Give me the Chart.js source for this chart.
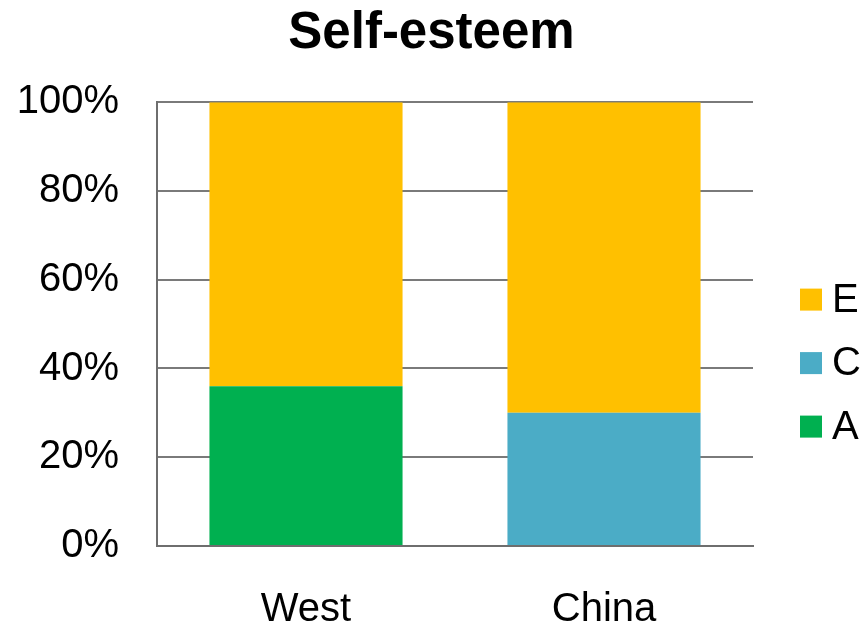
<!DOCTYPE html>
<html>
<head>
<meta charset="utf-8">
<script src="https://cdn.jsdelivr.net/npm/chart.js@4.4.1/dist/chart.umd.min.js"></script>
<style>
  html, body { margin: 0; padding: 0; background: #fff; }
  #wrap { width: 863px; height: 628px; position: relative; }
</style>
</head>
<body>
<div id="wrap"><canvas id="esteemChart"></canvas></div>
<script>
// groups along the x axis
const groups = ["West", "China"];
// share of each style per group (percent), stacked bottom to top: A, C, E
const shareA = [36, 0];
const shareC = [0, 30];
const shareE = [64, 70];
const yTicks = [0, 20, 40, 60, 80, 100];

const baseFont = "'Liberation Sans', Arial, sans-serif";

//legend drawn by hand on the right so the box/text gap can be tight
const sideLegend = {
    id: "sideLegend",
    afterDraw(chart) {
        const c = chart.ctx;
        const area = chart.chartArea;
        const mid = (area.top + area.bottom) / 2;
        //top to bottom: E, C, A (reverse of the stacking order)
        const sets = chart.data.datasets.slice().reverse();
        c.save();
        c.font = "40px " + baseFont;
        c.textBaseline = "middle";
        c.textAlign = "left";
        sets.forEach((ds, i) => {
            const y = mid + 39 + (i - 1) * 63.5;
            c.fillStyle = ds.backgroundColor;
            c.fillRect(800, y - 11, 22, 22);
            c.fillStyle = "#000";
            c.fillText(ds.label, 832, y + 1);
        });
        c.restore();
    }
};

const ctx = document.getElementById("esteemChart").getContext("2d");
const chart = new Chart(ctx, {
    type: "bar",
    data: {
        labels: groups,
        datasets: [
            { label: "A", data: shareA, backgroundColor: "#00B050" },
            { label: "C", data: shareC, backgroundColor: "#4BACC6" },
            { label: "E", data: shareE, backgroundColor: "#FFC000" }
        ]
    },
    options: {
        responsive: true,
        maintainAspectRatio: false,
        animation: false,
        layout: { padding: 0 },
        datasets: {
            bar: { categoryPercentage: 1.0, barPercentage: 0.648 }
        },
        scales: {
            x: {
                stacked: true,
                grid: { display: false },
                border: { color: "#6e6e6e", width: 2 },
                ticks: { color: "#000", font: { family: baseFont, size: 40 }, padding: 32 },
                afterFit: (axis) => { axis.height = 82; }
            },
            y: {
                stacked: true,
                min: 0,
                max: 100,
                afterBuildTicks: (axis) => { axis.ticks = yTicks.map(v => ({ value: v })); },
                grid: { color: "#7a7a7a", lineWidth: 2, drawTicks: false },
                border: { color: "#6e6e6e", width: 2 },
                ticks: {
                    color: "#000",
                    font: { family: baseFont, size: 40 },
                    padding: 38,
                    callback: (v) => v + "%"
                },
                afterFit: (axis) => { axis.width = 157; }
            },
            //empty axis on the right, only keeps room for the legend
            side: {
                type: "linear",
                position: "right",
                grid: { display: false },
                border: { display: false },
                ticks: { display: false },
                afterFit: (axis) => { axis.width = 110; }
            }
        },
        plugins: {
            title: {
                display: true,
                text: "Self-esteem",
                color: "#000",
                font: { family: baseFont, size: 51, weight: "bold" },
                padding: { top: 3, bottom: 38 }
            },
            legend: { display: false },
            tooltip: { enabled: false }
        }
    },
    plugins: [sideLegend]
});
</script>
</body>
</html>
